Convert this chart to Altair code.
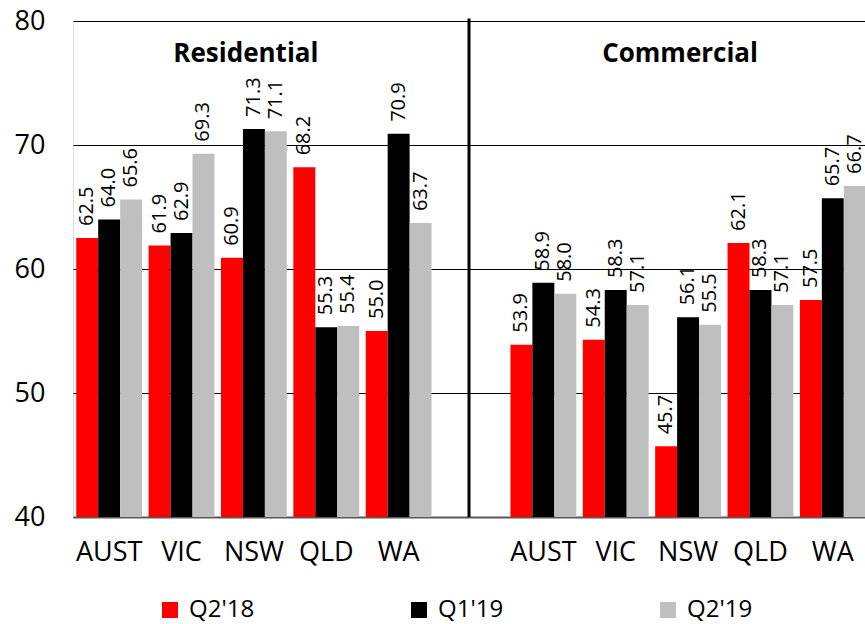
import altair as alt
import pandas as pd

states = ["AUST", "VIC", "NSW", "QLD", "WA"]
series = ["Q2'18", "Q1'19", "Q2'19"]
colors = ["#FF0000", "#000000", "#BFBFBF"]

res_q218 = [62.5, 61.9, 60.9, 68.2, 55.0]
res_q119 = [64.0, 62.9, 71.3, 55.3, 70.9]
res_q219 = [65.6, 69.3, 71.1, 55.4, 63.7]

com_q218 = [53.9, 54.3, 45.7, 62.1, 57.5]
com_q119 = [58.9, 58.3, 56.1, 58.3, 65.7]
com_q219 = [58.0, 57.1, 55.5, 57.1, 66.7]

slots = ["R_" + s for s in states] + ["gap"] + ["C_" + s for s in states]

rows = []
for prefix, vals in [("R_", [res_q218, res_q119, res_q219]), ("C_", [com_q218, com_q119, com_q219])]:
    for ser, arr in zip(series, vals):
        for st, v in zip(states, arr):
            rows.append({"slot": prefix + st, "series": ser, "value": v})
df = pd.DataFrame(rows)

titles = pd.DataFrame({"slot": ["R_NSW", "C_NSW"], "label": ["Residential", "Commercial"], "v": [76.7, 76.7]})
divider = pd.DataFrame({"slot": ["gap"], "y1": [40], "y2": [80.2]})

FONT = "Open Sans"

xscale = alt.Scale(domain=slots, range=[0, 796], paddingInner=0.09, paddingOuter=0.045)
yscale = alt.Scale(domain=[40, 80], nice=False, zero=False)

xaxis = alt.Axis(
    labelExpr="datum.value == 'gap' ? '' : slice(datum.value, 2)",
    ticks=False, tickSize=0, domain=True, domainColor="#595959", domainWidth=2,
    labelFontSize=27, labelFont=FONT, labelPadding=22, labelColor="black",
    grid=False, labelAngle=0, title=None,
)
yaxis = alt.Axis(
    values=[40, 50, 60, 70, 80], grid=True, gridColor="black", gridWidth=1,
    domain=False, ticks=False, tickSize=0, labelFontSize=27, labelFont=FONT,
    labelPadding=28, labelColor="black", title=None,
)

x_enc = alt.X("slot:N", scale=xscale, axis=xaxis, title=None)
xoff = alt.XOffset("series:N", sort=series, scale=alt.Scale(domain=series, paddingInner=0, paddingOuter=0))

bars = alt.Chart(df).mark_bar(clip=True).encode(
    x=x_enc,
    xOffset=xoff,
    y=alt.Y("value:Q", scale=yscale, axis=yaxis, title=None),
    color=alt.Color(
        "series:N",
        scale=alt.Scale(domain=series, range=colors),
        legend=alt.Legend(
            orient="none", legendX=85, legendY=577, direction="horizontal",
            columns=3, symbolType="square", symbolSize=256, symbolStrokeWidth=0,
            labelFontSize=24, labelFont=FONT, labelOffset=7, columnPadding=152,
            labelLimit=300, title=None, padding=0, labelColor="black",
        ),
    ),
)

labels = alt.Chart(df).mark_text(
    angle=270, align="left", baseline="middle", dx=12, fontSize=20, font=FONT, color="black"
).encode(
    x=alt.X("slot:N", scale=xscale, axis=xaxis, title=None),
    xOffset=xoff,
    y=alt.Y("value:Q", scale=yscale, title=None),
    text=alt.Text("value:Q", format=".1f"),
)

title_text = alt.Chart(titles).mark_text(
    fontSize=26, fontWeight="bold", font=FONT, color="black", baseline="alphabetic", dx=-8
).encode(
    x=alt.X("slot:N", scale=xscale, title=None),
    y=alt.Y("v:Q", scale=yscale, title=None),
    text="label:N",
)

rule = alt.Chart(divider).mark_rule(color="black", strokeWidth=3, xOffset=-2).encode(
    x=alt.X("slot:N", scale=xscale, title=None),
    y=alt.Y("y1:Q", scale=yscale, title=None),
    y2="y2:Q",
)

chart = alt.layer(bars, labels, title_text, rule).properties(
    width=792, height=496,
    padding={"left": 73, "top": 21, "right": 0, "bottom": 107},
    autosize="none",
).configure_view(stroke=None).configure(background="white")

chart.save("out.html", embed_options={"renderer": "svg", "actions": False})
